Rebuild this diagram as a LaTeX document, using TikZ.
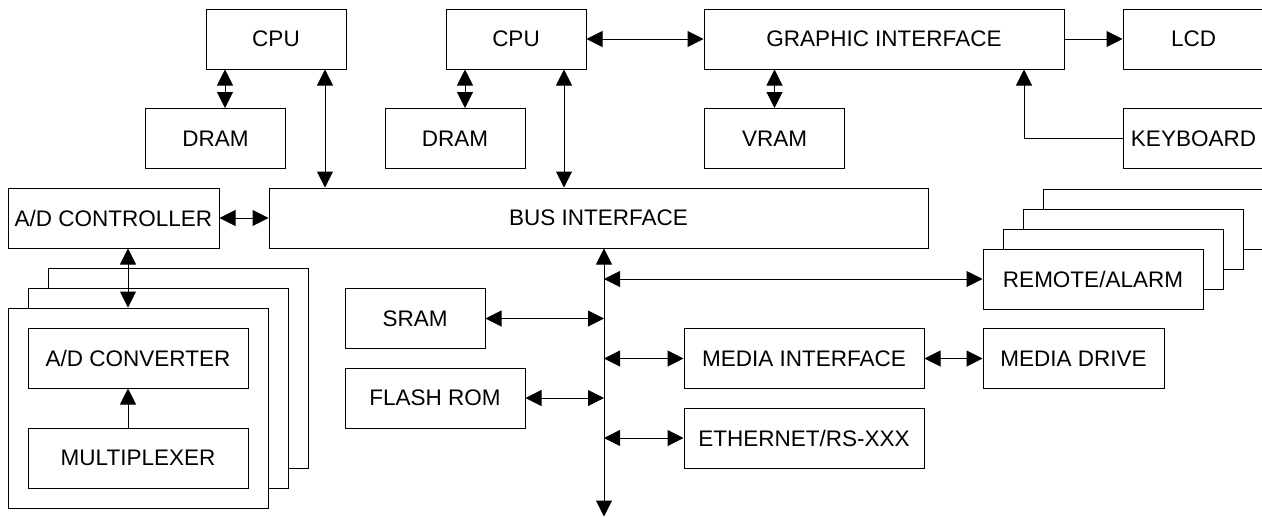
\documentclass[tikz,border=0pt]{standalone}
\usepackage{fontspec}
\setmainfont{Liberation Sans}
\usetikzlibrary{arrows.meta}

\begin{document}
\begin{tikzpicture}
  [x=1pt,y=-1pt,line width=1pt,
   every node/.style={draw,fill=white,inner sep=0pt,minimum height=60pt,font=\fontsize{22.5}{27}\selectfont},
   dbl/.style={{Triangle[length=16pt,width=16pt]}-{Triangle[length=16pt,width=16pt]}},
   sgl/.style={-{Triangle[length=16pt,width=16pt]}},
   frame/.style={minimum width=260pt,minimum height=200pt},
   remstack/.style={minimum width=220pt}]
  \useasboundingbox (0,0) rectangle (1262,517);

  % top row
  \node[minimum width=140pt] (cpuA) at (276,39) {CPU};
  \node[minimum width=140pt] (dramA) at (215.5,138.5) {DRAM};
  \node[minimum width=140pt] (cpuB) at (516,39) {CPU};
  \node[minimum width=140pt] (dramB) at (455,138.5) {DRAM};
  \node[minimum width=360pt] (gfx) at (884,39) {GRAPHIC INTERFACE};
  \node[minimum width=140pt] (vram) at (774.5,138.5) {VRAM};
  \node[minimum width=141pt] (lcd) at (1193.5,39) {LCD};
  \node[minimum width=141pt] (kbd) at (1193.5,138.5) {KEYBOARD};

  % bus row
  \node[minimum width=211pt] (adc) at (113.5,218) {A/D CONTROLLER};
  \node[minimum width=659pt] (bus) at (598.5,218) {BUS INTERFACE};

  % converter cards
  \node[frame] (adback) at (178,368) {};
  \node[frame] (admid) at (158,388) {};
  \node[frame] (adfront) at (138,408) {};
  \node[minimum width=220pt] (conv) at (138,358) {A/D CONVERTER};
  \node[minimum width=220pt] (mux) at (138,458) {MULTIPLEXER};

  % memories and peripherals
  \node[minimum width=140pt] (sram) at (415,318.5) {SRAM};
  \node[minimum width=180pt] (flash) at (435,398) {FLASH ROM};
  \foreach \i/\nm in {3/remC,2/remB,1/remA}
    \node[remstack] (\nm) at (1093+20*\i,279-20*\i) {};
  \node[remstack] (remote) at (1093,279) {REMOTE/ALARM};
  \node[minimum width=240pt] (mif) at (804,358.5) {MEDIA INTERFACE};
  \node[minimum width=181pt] (mdrv) at (1073.5,358.5) {MEDIA DRIVE};
  \node[minimum width=240pt] (eth) at (804,438) {ETHERNET/RS-XXX};

  % cpu links
  \foreach \c/\d/\l/\r in {cpuA/dramA/-51/49,cpuB/dramB/-51/48}{
    \coordinate (\c L) at ([xshift=\l pt]\c.south);
    \coordinate (\c R) at ([xshift=\r pt]\c.south);
    \draw[dbl] (\c L) -- (\c L |- \d.north);
    \draw[dbl] (\c R) -- (\c R |- bus.north);
  }
  \draw[dbl] (cpuB.east) -- (gfx.west);
  \draw[sgl] (gfx.east) -- (lcd.west);
  \draw[dbl] (vram.north |- gfx.south) -- (vram.north);
  \coordinate (kX) at ([xshift=140pt]gfx.south);
  \draw[sgl] (kbd.west) -| (kX);

  % converter links
  \draw[dbl] (adc.east) -- (bus.west);
  \coordinate (adX) at ([xshift=-10pt]conv.north);
  \draw[dbl] (adX |- adc.south) -- (adX |- adfront.north);
  \draw[sgl] (adX |- mux.north) -- (adX |- conv.south);

  % system bus
  \coordinate (busN) at ([xshift=5.5pt]bus.south);
  \coordinate (busS) at (604,516.5);
  \draw[dbl] (busN) -- (busS);
  \foreach \n in {sram,flash}
    \draw[dbl] (\n.east) -- (\n.east -| busN);
  \foreach \n in {remote,mif,eth}
    \draw[dbl] (\n.west -| busN) -- (\n.west);
  \draw[dbl] (mif.east) -- (mdrv.west);
\end{tikzpicture}
\end{document}
